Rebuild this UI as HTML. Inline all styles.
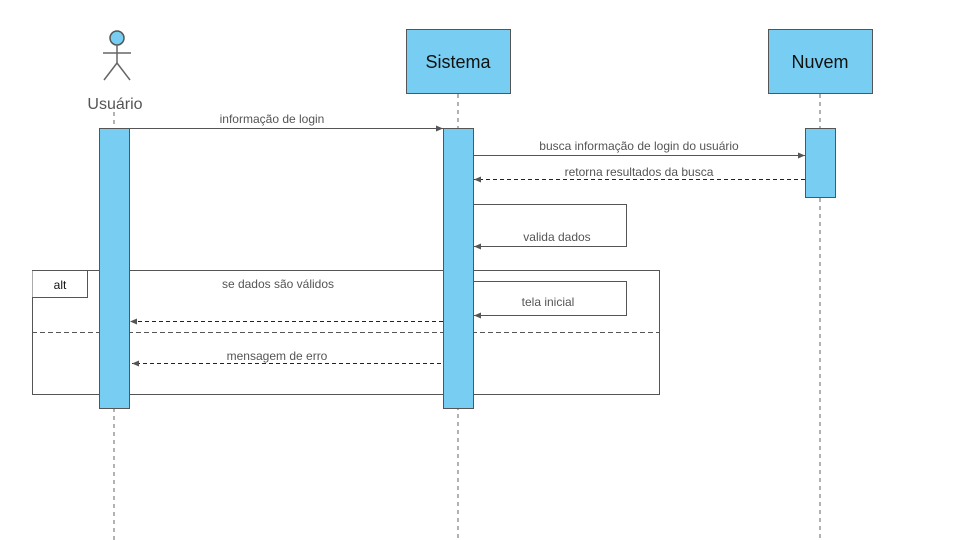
<!DOCTYPE html>
<html><head><meta charset="utf-8"><style>html,body{margin:0;padding:0;background:#fff;width:960px;height:540px;overflow:hidden}</style></head>
<body>
<svg width="960" height="540" viewBox="0 0 960 540" xmlns="http://www.w3.org/2000/svg" font-family="Liberation Sans, sans-serif">
<defs>
<marker id="a" markerWidth="8" markerHeight="8" refX="7" refY="4" orient="auto" markerUnits="userSpaceOnUse"><path d="M0,1 L7,4 L0,7 Z" fill="#555"/></marker>
</defs>
<g stroke="#666" stroke-dasharray="4,4" stroke-width="1">
<line x1="114" y1="112" x2="114" y2="540"/>
<line x1="458" y1="94" x2="458" y2="540"/>
<line x1="820" y1="94" x2="820" y2="540"/>
</g>
<circle cx="117" cy="38" r="7" fill="#77cef2" stroke="#555" stroke-width="1.5"/>
<g stroke="#666" stroke-width="1.5"><line x1="117" y1="45" x2="117" y2="63"/><line x1="103" y1="53" x2="131" y2="53"/><line x1="117" y1="63" x2="104" y2="80"/><line x1="117" y1="63" x2="130" y2="80"/></g>
<text x="115" y="109" font-size="16" fill="#555" text-anchor="middle">Usuário</text>
<rect x="406.5" y="29.5" width="104" height="64" fill="#77cef2" stroke="#555"/>
<text x="458" y="68" font-size="18" text-anchor="middle" fill="#111">Sistema</text>
<rect x="768.5" y="29.5" width="104" height="64" fill="#77cef2" stroke="#555"/>
<text x="820" y="68" font-size="18" text-anchor="middle" fill="#111">Nuvem</text>
<rect x="32.5" y="270.5" width="627" height="124" fill="none" stroke="#555"/>
<line x1="32" y1="332.5" x2="660" y2="332.5" stroke="#555" stroke-dasharray="5,3"/>
<rect x="99.5" y="128.5" width="30" height="280" fill="#77cef2" stroke="#555"/>
<rect x="443.5" y="128.5" width="30" height="280" fill="#77cef2" stroke="#555"/>
<rect x="805.5" y="128.5" width="30" height="69" fill="#77cef2" stroke="#555"/>
<g font-size="12" fill="#555" text-anchor="middle">
<line x1="130" y1="128.5" x2="443" y2="128.5" stroke="#555" marker-end="url(#a)"/>
<text x="272" y="123">informação de login</text>
<line x1="474" y1="155.5" x2="805" y2="155.5" stroke="#555" marker-end="url(#a)"/>
<text x="639" y="150">busca informação de login do usuário</text>
<line x1="805" y1="179.5" x2="474" y2="179.5" stroke="#222" stroke-dasharray="4,3" marker-end="url(#a)"/>
<text x="639" y="176">retorna resultados da busca</text>
<polyline points="474,204.5 626.5,204.5 626.5,246.5 474,246.5" fill="none" stroke="#555" marker-end="url(#a)"/>
<text x="557" y="241">valida dados</text>
<path d="M32.5,270.5 H87.5 V297.5 H32.5" fill="#fff" stroke="#555"/>
<text x="60" y="289" fill="#111">alt</text>
<text x="278" y="288">se dados são válidos</text>
<polyline points="474,281.5 626.5,281.5 626.5,315.5 474,315.5" fill="none" stroke="#555" marker-end="url(#a)"/>
<text x="548" y="306">tela inicial</text>
<line x1="443" y1="321.5" x2="130" y2="321.5" stroke="#222" stroke-dasharray="4,3" marker-end="url(#a)"/>
<line x1="441" y1="363.5" x2="132" y2="363.5" stroke="#222" stroke-dasharray="4,3" marker-end="url(#a)"/>
<text x="277" y="360">mensagem de erro</text>
</g>
</svg>
</body></html>
